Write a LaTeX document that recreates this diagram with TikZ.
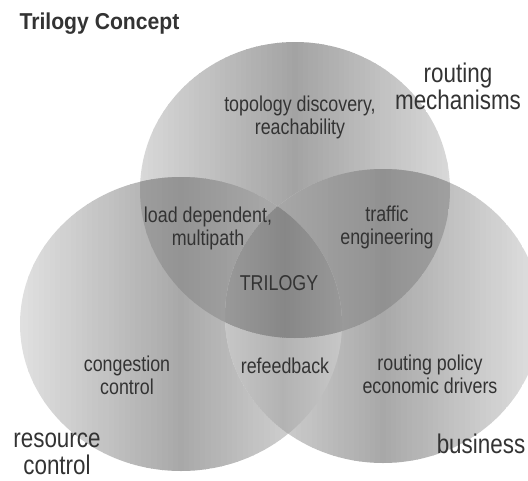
\documentclass[tikz,border=0pt]{standalone}
\usepackage{fontspec}
\setmainfont{Liberation Sans}[FakeStretch=0.83]
\newfontfamily\trilogyTitle{Liberation Sans}[FakeStretch=0.92]
\usepackage{xcolor}
\usepackage{tikz}
\usetikzlibrary{calc}
\definecolor{trilogyText}{gray}{0.2}
% vertical bands: centre x, x radius, edge tint, middle tint
\newcommand{\VennStrips}[4]{
	\foreach \s in {-30,...,30}{
		\pgfmathsetmacro{\shadeval}{#3+(#4-#3)*(1-abs(\s)/30)}
		\fill[black!\shadeval] ({#1+(\s-0.5)*#2/30},0) rectangle ({#1+(\s+0.5)*#2/30+0.6},480);
	}
}

\begin{document}
\begin{tikzpicture}[x=1pt, y=-1pt,
	inner label/.style={align=center, text=trilogyText, font=\fontsize{21.5}{23}\selectfont},
	outer label/.style={align=center, text=trilogyText, font=\fontsize{27}{27}\selectfont}]

	\useasboundingbox (0,0) rectangle (528,480);

	\coordinate (T) at (295,190);
	\coordinate (L) at (181,324);
	\coordinate (R) at (383,316);
	\def\topset{(T) ellipse [x radius=155, y radius=148]}
	\def\leftset{(L) ellipse [x radius=161, y radius=147]}
	\def\rightset{(R) ellipse [x radius=158, y radius=147]}

	% the three sets
	\begin{scope}
		\clip \topset;
		\VennStrips{295}{155}{15}{36}
	\end{scope}
	\begin{scope}
		\clip \leftset;
		\VennStrips{181}{161}{12}{34}
	\end{scope}
	\begin{scope}
		\clip \rightset;
		\VennStrips{383}{158}{12}{34}
	\end{scope}

	% two sets
	\begin{scope}
		\clip \topset;
		\clip \leftset;
		\VennStrips{181}{161}{28}{42}
	\end{scope}
	\begin{scope}
		\clip \topset;
		\clip \rightset;
		\VennStrips{383}{158}{30}{43}
	\end{scope}
	\begin{scope}
		\clip \leftset;
		\clip \rightset;
		\VennStrips{283}{60}{22}{30}
	\end{scope}

	% all three
	\begin{scope}
		\clip \topset;
		\clip \leftset;
		\clip \rightset;
		\VennStrips{285}{60}{40}{47}
	\end{scope}

	\node[anchor=west, text=trilogyText, font=\fontsize{23}{26}\selectfont\trilogyTitle\bfseries] (title) at (16,24) {Trilogy Concept};

	\node[outer label] (routing) at (458,86) {routing\\mechanisms};
	\node[outer label] (resource) at (57,454) {resource\\control};
	\node[outer label] (business) at (481,444) {business};

	\node[inner label] (topology) at (300,117) {topology discovery,\\reachability};
	\node[inner label] (load) at (208,228) {load dependent,\\multipath};
	\node[inner label] (traffic) at (387,227) {traffic\\engineering};
	\node[inner label] (trilogy) at (279,283) {TRILOGY};
	\node[inner label] (congestion) at (127,375) {congestion\\control};
	\node[inner label] (refeedback) at (285,366) {refeedback};
	\node[inner label] (policy) at (430,374) {routing policy\\economic drivers};

\end{tikzpicture}
\end{document}
